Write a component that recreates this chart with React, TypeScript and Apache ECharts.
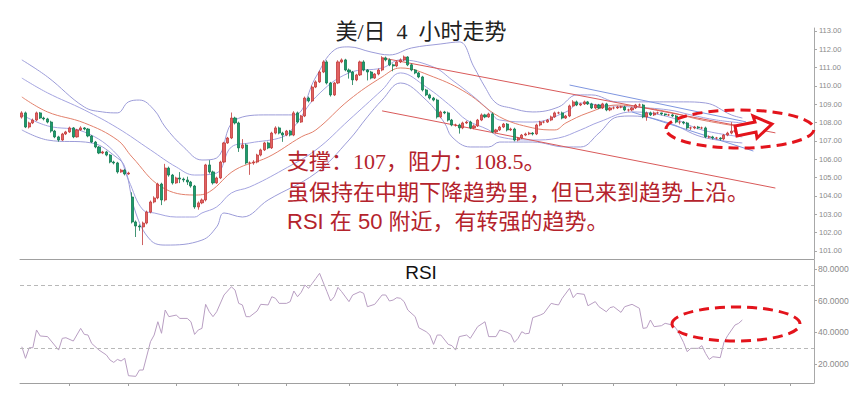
import React, { useEffect, useRef } from "react";
import * as echarts from "echarts";

const chartTitle = "美/日  4  小时走势";
const rsiTitle = "RSI";
const noteLines = [
  "支撑：107，阻力：108.5。",
  "虽保持在中期下降趋势里，但已来到趋势上沿。",
  "RSI 在 50 附近，有转强的趋势。",
];

const categoryCount = 216;
const categories = Array.from({ length: categoryCount }, (_, i) => String(i));
const xTickIndices = [13, 29, 42, 59, 72, 89, 102, 118, 131, 147, 161, 178, 191, 209];

const opens = [
  108.30,108.53,107.76,107.98,108.14,108.53,108.25,108.20,108.03,107.54,
  107.22,107.05,107.38,107.49,107.71,107.22,107.60,107.71,107.65,107.27,
  106.94,106.67,106.34,106.40,106.23,105.85,105.80,105.31,105.41,105.20,
  103.94,102.58,102.36,102.31,102.52,103.12,103.67,103.89,104.65,103.78,
  105.52,105.14,104.71,104.98,104.92,104.87,104.76,104.54,103.40,103.62,
  103.78,105.69,105.31,104.71,104.98,105.85,106.89,107.16,108.25,107.98,
  106.62,106.78,105.80,105.80,105.85,106.23,106.51,106.89,106.62,107.43,
  107.71,107.43,107.32,107.54,107.32,108.53,108.03,108.36,109.34,109.18,
  109.94,110.22,110.76,111.31,110.16,109.51,110.16,111.31,111.42,110.87,
  110.76,110.33,110.60,111.31,110.87,110.76,110.43,110.65,110.87,111.53,
  111.42,111.15,111.09,111.31,111.42,111.58,111.15,110.87,110.71,110.49,
  109.78,109.51,109.34,109.23,108.31,108.58,108.53,108.14,107.87,107.87,
  107.71,107.98,108.03,107.71,107.82,108.14,108.42,108.31,108.47,107.49,
  107.60,107.76,107.92,107.60,107.65,107.05,107.16,107.32,107.38,107.43,
  107.38,107.87,108.03,108.03,108.14,108.31,108.53,108.53,108.25,108.36,
  108.91,109.13,108.96,109.02,109.13,109.02,108.80,108.96,108.80,109.02,
  108.69,108.80,108.80,108.85,108.85,108.69,108.69,108.80,108.96,108.96,
  108.31,108.53,108.42,108.53,108.53,108.47,108.42,108.42,108.36,108.03,
  108.03,107.98,107.71,107.71,107.76,107.71,107.71,107.22,107.22,107.16,
  107.16,107.11,107.32,107.43,107.54,107.54,107.60,
];

const closes = [
  108.53,107.76,107.98,108.14,108.53,108.25,108.20,108.03,107.54,107.22,
  107.05,107.38,107.49,107.71,107.22,107.60,107.71,107.65,107.27,106.94,
  106.67,106.34,106.40,106.23,105.85,105.80,105.31,105.41,105.20,105.25,
  102.58,102.36,102.31,102.52,103.12,103.67,103.89,104.65,103.78,105.52,
  105.14,104.71,104.98,104.92,104.87,104.76,104.54,103.40,103.62,103.78,
  105.69,105.31,104.71,104.98,105.85,106.89,107.16,108.25,107.98,106.62,
  106.78,105.80,105.80,105.85,106.23,106.51,106.89,106.62,107.43,107.71,
  107.43,107.32,107.54,107.32,108.53,108.03,108.36,109.34,109.18,109.94,
  110.22,110.76,111.31,110.16,109.51,110.16,111.31,111.42,110.87,110.76,
  110.33,110.60,111.31,110.87,110.76,110.43,110.65,110.87,111.53,111.42,
  111.15,111.09,111.31,111.42,111.58,111.15,110.87,110.71,110.49,109.78,
  109.51,109.34,109.23,108.31,108.58,108.53,108.14,107.87,107.87,107.71,
  107.98,108.03,107.71,107.82,108.14,108.42,108.31,108.47,107.49,107.60,
  107.76,107.92,107.60,107.65,107.05,107.16,107.32,107.38,107.43,107.38,
  107.87,108.03,108.03,108.14,108.31,108.53,108.53,108.25,108.36,108.91,
  109.13,108.96,109.02,109.13,109.02,108.80,108.96,108.80,109.02,108.69,
  108.80,108.80,108.85,108.85,108.69,108.69,108.80,108.96,108.96,108.31,
  108.53,108.42,108.53,108.53,108.47,108.42,108.42,108.36,108.03,108.03,
  107.98,107.71,107.71,107.76,107.71,107.71,107.22,107.22,107.16,107.16,
  107.11,107.32,107.43,107.54,107.54,107.60,107.65,
];

const lows = [
  108.22,107.70,107.68,107.92,108.08,108.20,108.12,107.96,107.45,107.15,
  106.96,107.00,107.32,107.44,107.15,107.18,107.55,107.58,107.20,106.88,
  106.60,106.28,106.28,106.16,105.78,105.72,105.22,105.26,105.12,105.15,
  102.50,101.76,102.10,101.32,102.45,103.05,103.60,103.82,103.50,103.70,
  105.05,104.62,104.66,104.70,104.75,104.60,104.45,103.30,103.25,103.55,
  103.70,105.22,104.62,104.66,104.92,105.80,106.84,107.10,107.90,106.40,
  106.55,105.72,105.15,105.70,105.78,106.16,106.45,106.55,106.56,107.36,
  107.36,106.95,107.26,107.25,107.26,107.96,107.98,108.30,109.10,109.12,
  109.88,110.16,110.70,110.08,109.42,109.45,110.10,111.24,110.80,110.40,
  110.05,110.26,110.54,110.80,110.30,110.36,110.38,110.58,110.80,111.34,
  111.08,110.80,111.02,111.25,111.36,111.08,110.80,110.64,110.42,109.70,
  109.44,109.26,109.16,108.22,108.24,108.46,108.06,107.80,107.78,107.40,
  107.64,107.92,107.64,107.64,107.76,108.08,108.24,108.26,107.42,107.42,
  107.54,107.70,107.52,107.54,106.98,106.98,107.10,107.26,107.32,107.30,
  107.32,107.80,107.96,107.98,108.08,108.26,108.46,108.18,108.20,108.30,
  108.86,108.90,108.90,108.96,108.96,108.74,108.74,108.74,108.74,108.62,
  108.62,108.72,108.74,108.78,108.62,108.60,108.62,108.74,108.88,108.24,
  108.10,108.36,108.36,108.46,108.40,108.36,108.36,108.30,107.96,107.90,
  107.90,107.64,107.60,107.64,107.64,107.64,107.15,107.14,107.08,107.08,
  107.02,107.04,107.26,107.36,107.46,107.50,107.55,
];

const highs = [
  108.62,108.60,108.05,108.22,108.60,108.58,108.32,108.26,108.10,107.60,
  107.28,107.44,107.55,107.78,107.76,107.66,107.80,107.76,107.70,107.32,
  107.00,106.72,106.46,106.46,106.28,105.92,105.86,105.48,105.46,105.32,
  104.20,102.66,102.45,102.60,103.20,103.75,103.98,104.72,104.72,105.75,
  105.60,105.20,105.05,105.30,105.00,105.05,104.82,104.60,103.70,103.86,
  105.75,105.95,105.38,105.05,105.92,106.95,107.22,108.55,108.32,108.05,
  107.10,106.85,105.88,105.95,106.30,106.58,106.95,106.96,107.50,107.80,
  107.78,107.50,107.60,107.60,108.62,108.60,108.42,109.42,109.42,110.02,
  110.30,110.84,111.40,111.40,110.22,110.22,111.40,111.50,111.48,110.95,
  110.82,110.66,111.38,111.40,110.92,110.82,110.70,110.95,111.62,111.60,
  111.50,111.22,111.38,111.50,111.66,111.62,111.22,110.92,110.76,110.55,
  109.84,109.58,109.40,109.30,108.65,108.64,108.60,108.20,107.94,107.94,
  108.05,108.10,108.10,107.90,108.20,108.50,108.48,108.54,108.55,107.66,
  107.82,107.98,107.98,107.72,107.72,107.22,107.38,107.45,107.50,107.48,
  107.94,108.10,108.10,108.20,108.38,108.60,108.60,108.60,108.42,108.98,
  109.22,109.20,109.08,109.20,109.18,109.08,109.02,109.02,109.08,109.08,
  108.86,108.88,108.92,108.92,108.92,108.76,108.86,109.02,109.04,109.02,
  108.60,108.60,108.60,108.60,108.54,108.50,108.48,108.48,108.42,108.10,
  108.08,108.04,107.78,107.82,107.82,107.78,107.78,107.30,107.28,107.22,
  107.20,107.38,107.50,108.02,107.62,107.68,107.72,
];

// Bollinger-style band lines read at key points: [candle index, price]
const bandUpperOuter = [
  [0,111.42],[7,110.49],[17,108.85],[22,108.58],[26,108.53],[29,109.13],[32,109.23],[36,108.69],
  [39,107.76],[44,106.67],[49,105.96],[53,106.07],[58,108.14],[67,108.42],[74,108.42],[80,110.49],
  [85,111.96],[89,112.13],[95,111.85],[100,111.69],[106,112.07],[114,112.29],[119,112.40],[123,111.03],
  [126,109.94],[129,109.07],[133,108.80],[139,108.58],[146,108.85],[151,109.51],[155,109.51],[162,109.13],
  [171,109.13],[180,109.13],[186,109.07],[193,108.42],[196,108.25],
];
const bandUpperInner = [
  [0,110.43],[7,109.62],[17,108.69],[26,107.71],[35,106.51],[42,105.58],[47,105.14],[53,105.25],
  [57,106.67],[62,106.89],[71,107.22],[74,107.76],[80,109.40],[89,110.71],[98,110.98],[103,111.42],
  [112,111.03],[117,110.33],[123,109.40],[127,108.69],[130,108.14],[139,108.03],[148,108.58],[152,109.07],
  [157,108.96],[166,108.85],[176,108.69],[182,108.42],[189,108.14],[196,107.98],
];
const bandMiddle = [
  [0,109.40],[7,108.58],[17,107.98],[26,107.05],[30,106.12],[38,104.49],[47,104.05],[51,104.22],
  [58,105.42],[67,106.12],[76,107.22],[80,107.60],[89,109.23],[98,110.49],[103,110.98],[112,110.49],
  [121,109.62],[130,108.31],[139,107.71],[145,107.60],[148,107.98],[154,108.53],[162,108.96],[168,108.85],
  [176,108.58],[185,108.14],[196,107.76],
];
const bandLowerInner = [
  [0,108.42],[7,107.82],[17,107.49],[26,106.23],[29,104.87],[33,103.23],[36,103.07],[42,102.85],
  [47,102.85],[49,103.07],[53,103.40],[57,104.16],[62,104.49],[71,105.42],[80,106.51],[89,108.14],
  [98,109.78],[103,110.71],[110,109.94],[117,108.85],[121,108.14],[127,107.60],[130,107.22],[139,107.05],
  [146,107.16],[152,107.60],[157,108.03],[166,108.58],[176,108.31],[185,107.60],[196,107.22],
];
const bandLowerOuter = [
  [0,107.60],[7,107.05],[19,106.89],[26,106.07],[28,105.58],[31,103.07],[35,101.59],[39,101.32],
  [49,101.59],[53,102.31],[55,103.07],[60,102.85],[67,103.78],[80,105.25],[89,107.05],[94,108.31],
  [98,109.23],[103,110.16],[110,109.23],[115,107.98],[117,107.22],[122,106.67],[127,106.67],[130,106.94],
  [139,106.94],[148,106.67],[152,106.67],[157,107.43],[162,108.31],[166,108.36],[176,107.98],[185,107.22],
  [196,106.89],
];

const trendUpper = [[98,111.53],[205,107.44]];
const trendLower = [[98,108.64],[205,104.43]];
const channelUpper = [[149,110.05],[197,108.04]];
const channelLower = [[166,108.58],[199,106.45]];

const rsiIndex = [
  0,1,2,3,4,5,7,8,10,11,12,14,16,17,18,19,21,23,24,25,26,27,28,29,31,32,33,35,36,37,38,39,40,42,43,45,46,47,48,49,
  50,51,52,53,55,57,58,59,60,61,62,64,65,67,68,69,70,72,73,74,75,76,77,78,79,80,81,83,84,85,86,87,89,90,92,93,94,96,98,99,
  100,101,102,103,104,105,107,108,110,111,112,113,114,116,117,118,119,121,122,124,126,127,129,130,132,133,134,135,136,137,138,139,141,142,144,145,146,147,149,150,
  151,153,154,156,157,159,160,161,163,164,166,168,169,170,171,172,174,175,177,178,179,180,181,182,184,185,186,187,188,190,191,192,194,195,196,
];
const rsiValues = [
  30.9,23.6,30.3,30.3,41.5,37.7,37.3,34.5,28.8,36.2,36.6,34.5,42.5,38.7,38.3,33.0,28.8,25.7,22.5,21.0,22.9,21.9,23.6,12.6,12.2,16.2,16.2,34.1,38.3,46.7,39.4,54.1,49.9,50.9,48.8,48.8,46.7,38.7,41.5,42.5,
  57.7,53.0,49.9,53.0,63.6,68.8,66.7,58.3,57.3,49.9,49.9,53.5,57.7,57.3,62.5,61.5,58.3,58.3,59.4,66.1,62.5,65.3,69.9,67.8,70.9,74.1,77.3,65.7,59.8,62.5,68.4,65.7,59.4,63.6,65.7,64.6,56.2,57.7,63.6,63.6,
  59.8,60.4,61.9,61.5,59.4,54.1,49.9,42.9,40.4,38.3,32.4,38.3,38.3,32.4,31.6,28.8,37.3,38.3,36.2,43.6,46.7,37.3,37.3,41.5,40.0,38.7,33.7,36.2,40.4,39.1,39.4,49.3,50.9,52.0,58.3,57.7,57.3,61.5,67.8,61.9,
  64.6,64.0,56.8,59.4,56.2,53.0,55.6,56.2,52.6,56.2,57.7,55.2,42.5,42.9,47.8,43.6,44.2,45.7,44.6,42.5,38.3,33.7,27.8,29.9,29.9,31.6,26.7,22.9,24.6,24.0,33.7,37.9,44.6,45.7,47.8,
];
const rsiLevels = [70, 30];

const RED = "#e3141c";

export default function App() {
  const ref = useRef<HTMLDivElement>(null);

  useEffect(() => {
    if (!ref.current) return;
    const chart = echarts.init(ref.current, null, { renderer: "svg" });

    const candleData = opens.map((o, i) => [o, closes[i], lows[i], highs[i]]);
    const rsiData = rsiIndex.map((x, i) => [x, rsiValues[i]]);

    const bandLine = (name: string, data: number[][], color: string) => ({
      name,
      type: "line",
      xAxisIndex: 0,
      yAxisIndex: 0,
      data,
      smooth: 0.4,
      symbol: "none",
      silent: true,
      z: 1,
      lineStyle: { color, width: 1 },
    });
    const straight = (name: string, data: number[][], color: string) => ({
      name,
      type: "line",
      xAxisIndex: 0,
      yAxisIndex: 0,
      data,
      symbol: "none",
      silent: true,
      z: 1,
      lineStyle: { color, width: 1 },
    });

    const option: any = {
      animation: false,
      backgroundColor: "#ffffff",
      grid: [
        { left: 20, top: 28, width: 794, height: 231 },
        { left: 20, top: 260, width: 794, height: 123 },
      ],
      xAxis: [
        {
          type: "category",
          gridIndex: 0,
          data: categories,
          axisLine: { show: true, lineStyle: { color: "#a0a0a0" } },
          axisTick: { show: false },
          axisLabel: { show: false },
          splitLine: { show: false },
        },
        {
          type: "category",
          gridIndex: 1,
          data: categories,
          axisLine: { show: true, lineStyle: { color: "#a0a0a0" } },
          axisTick: {
            show: true,
            alignWithLabel: true,
            length: 3,
            interval: (i: number) => xTickIndices.includes(i),
            lineStyle: { color: "#a0a0a0" },
          },
          axisLabel: { show: false },
          splitLine: { show: false },
        },
      ],
      yAxis: [
        {
          type: "value",
          gridIndex: 0,
          position: "right",
          min: 100.56,
          max: 113.16,
          splitNumber: 12,
          axisLine: { show: true, lineStyle: { color: "#a8a8a8" } },
          axisTick: { show: true, length: 3, lineStyle: { color: "#a8a8a8" } },
          axisLabel: {
            color: "#8a8a8a",
            fontSize: 7.5,
            fontFamily: "Liberation Sans, Arial, sans-serif",
            margin: 5,
            showMinLabel: false,
            showMaxLabel: false,
            formatter: (v: number) => v.toFixed(2),
          },
          splitLine: { show: false },
        },
        {
          type: "value",
          gridIndex: 1,
          position: "right",
          min: 8,
          max: 85.7,
          splitNumber: 4,
          axisLine: { show: true, lineStyle: { color: "#a8a8a8" } },
          axisTick: { show: true, length: 3, lineStyle: { color: "#a8a8a8" } },
          axisLabel: {
            color: "#8a8a8a",
            fontSize: 8.5,
            fontFamily: "Liberation Sans, Arial, sans-serif",
            margin: 4,
            showMinLabel: false,
            showMaxLabel: false,
            formatter: (v: number) => v.toFixed(4),
          },
          splitLine: { show: false },
        },
      ],
      series: [
        bandLine("upperOuter", bandUpperOuter, "#9c9cd8"),
        bandLine("upperInner", bandUpperInner, "#a4a4e0"),
        bandLine("middle", bandMiddle, "#e2806c"),
        bandLine("lowerInner", bandLowerInner, "#a4a4e0"),
        bandLine("lowerOuter", bandLowerOuter, "#9c9cd8"),
        straight("trendUpper", trendUpper, "#d95a5a"),
        straight("trendLower", trendLower, "#d95a5a"),
        straight("channelUpper", channelUpper, "#7f96e0"),
        straight("channelLower", channelLower, "#7f96e0"),
        {
          name: "USDJPY",
          type: "candlestick",
          xAxisIndex: 0,
          yAxisIndex: 0,
          data: candleData,
          barWidth: 2.6,
          z: 3,
          itemStyle: {
            color: "#e26262",
            color0: "#1c9c6c",
            borderColor: "#c23a3a",
            borderColor0: "#137a52",
            borderWidth: 0.8,
          },
        },
        {
          name: "RSI",
          type: "line",
          xAxisIndex: 1,
          yAxisIndex: 1,
          data: rsiData,
          symbol: "none",
          silent: true,
          lineStyle: { color: "#b89ec2", width: 1 },
          markLine: {
            silent: true,
            symbol: "none",
            label: { show: false },
            lineStyle: { type: [4, 3], color: "#b8b8b8", width: 1 },
            data: rsiLevels.map((v) => ({ yAxis: v })),
          },
        },
      ],
      graphic: [
        {
          type: "text",
          x: 421,
          y: 31,
          z: 100,
          style: {
            text: chartTitle,
            fontSize: 22,
            fontFamily: '"Liberation Serif", "Noto Sans CJK SC", serif',
            fill: "#222222",
            textAlign: "center",
            textVerticalAlign: "middle",
          },
        },
        {
          type: "text",
          x: 421,
          y: 272,
          z: 100,
          style: {
            text: rsiTitle,
            fontSize: 19,
            fontFamily: '"Liberation Sans", Arial, sans-serif',
            fill: "#111111",
            textAlign: "center",
            textVerticalAlign: "middle",
          },
        },
        {
          type: "text",
          x: 287,
          y: 161,
          z: 100,
          style: {
            text: noteLines[0],
            fontSize: 22,
            fontFamily: '"Liberation Serif", "Noto Sans CJK SC", serif',
            fill: "#b4232c",
            textAlign: "left",
            textVerticalAlign: "middle",
          },
        },
        {
          type: "text",
          x: 287,
          y: 192,
          z: 100,
          style: {
            text: noteLines[1],
            fontSize: 22,
            fontFamily: '"Liberation Serif", "Noto Sans CJK SC", serif',
            fill: "#b4232c",
            textAlign: "left",
            textVerticalAlign: "middle",
          },
        },
        {
          type: "text",
          x: 287,
          y: 221,
          z: 100,
          style: {
            text: noteLines[2],
            fontSize: 22,
            fontFamily: '"Liberation Sans", "Noto Sans CJK SC", sans-serif',
            fill: "#b4232c",
            textAlign: "left",
            textVerticalAlign: "middle",
          },
        },
        {
          type: "ellipse",
          z: 100,
          shape: { cx: 740, cy: 129, rx: 74, ry: 19 },
          style: { fill: "none", stroke: RED, lineWidth: 3, lineDash: [10, 6] },
        },
        {
          type: "polygon",
          z: 101,
          shape: {
            points: [
              [735, 126], [755, 122], [753, 116], [772, 124], [757, 138], [756, 132], [737, 136],
            ],
          },
          style: { fill: "#ffffff", stroke: RED, lineWidth: 3, lineJoin: "miter" },
        },
        {
          type: "ellipse",
          z: 100,
          shape: { cx: 736, cy: 324, rx: 64, ry: 17 },
          style: { fill: "none", stroke: RED, lineWidth: 3, lineDash: [10, 6] },
        },
      ],
    };

    chart.setOption(option);
    return () => chart.dispose();
  }, []);

  return (
    <div
      ref={ref}
      style={{ position: "fixed", left: 0, top: 0, width: 854, height: 410, background: "#fff" }}
    />
  );
}
